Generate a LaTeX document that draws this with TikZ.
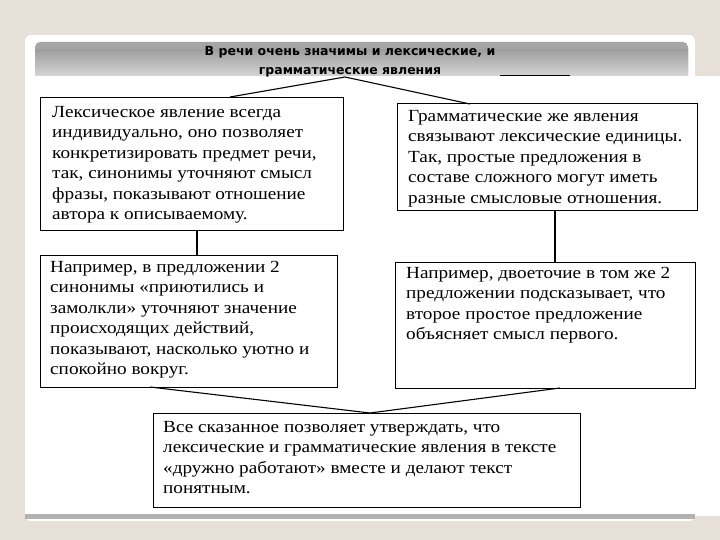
\documentclass[tikz,border=0pt]{standalone}
\usepackage{fontspec}
\setmainfont[FakeStretch=1.13]{Liberation Serif}
\newfontfamily\hdr{DejaVu Sans}
\begin{document}
\begin{tikzpicture}[x=1pt,y=-1pt,
  tbox/.style={draw=black,line width=1.2pt,fill=white,anchor=north west,inner sep=0pt},
  txt/.style={anchor=north west,align=left,font=\fontsize{17}{20.5}\selectfont,inner sep=0pt},
  conn/.style={line width=1.1pt}]
\useasboundingbox (0,0) rectangle (720,540);
\fill[color={rgb,255:red,230;green,224;blue,216}] (0,0) rectangle (720,540);
\fill[white,rounded corners=6pt] (25,35) rectangle (695,521);
\fill[gray!70,rounded corners=5pt] (35,42) rectangle (688,78);
\shade[top color=gray!75,bottom color=gray!30] (35,50) rectangle (688,78);
\fill[white] (35,76) rectangle (720,516);
\fill[gray!60] (25,514) rectangle (695,519);
\node[font=\hdr\bfseries\fontsize{12.5}{19}\selectfont,align=center] (title) at (350,62) {В речи очень значимы и лексические, и\\грамматические явления};
\coordinate (tp) at (345,77);
\draw[line width=1pt] (500,76) -- (570,76);
\node[tbox,minimum width=303pt,minimum height=133pt] (b1) at (40,97) {};
\node[txt] at (52,106) {Лексическое явление всегда\\индивидуально, оно позволяет\\конкретизировать предмет речи,\\так, синонимы уточняют смысл\\фразы, показывают отношение\\автора к описываемому.};
\node[tbox,minimum width=300pt,minimum height=107pt] (b2) at (397,103) {};
\node[txt] at (408,110) {Грамматические же явления\\связывают лексические единицы.\\Так, простые предложения в\\составе сложного могут иметь\\разные смысловые отношения.};
\node[tbox,minimum width=297pt,minimum height=132pt] (b3) at (40,255) {};
\node[txt] at (50,261) {Например, в предложении 2\\синонимы «приютились и\\замолкли» уточняют значение\\происходящих действий,\\показывают, насколько уютно и\\спокойно вокруг.};
\node[tbox,minimum width=300pt,minimum height=126pt] (b4) at (395,262) {};
\node[txt] at (406,267) {Например, двоеточие в том же 2\\предложении подсказывает, что\\второе простое предложение\\объясняет смысл первого.};
\node[tbox,minimum width=427pt,minimum height=94pt] (b5) at (153,413) {};
\node[txt] at (163,421) {Все сказанное позволяет утверждать, что\\лексические и грамматические явления в тексте\\«дружно работают» вместе и делают текст\\понятным.};
\coordinate (b5t) at (370,413);
\draw[conn] (tp) -- (230,97);
\draw[conn] (tp) -- (470,104);
\draw[conn] (197,230) -- (197,255);
\draw[conn] (555,210) -- (555,262);
\draw[conn] (150,387) -- (b5t);
\draw[conn] (560,388) -- (b5t);
\end{tikzpicture}
\end{document}
